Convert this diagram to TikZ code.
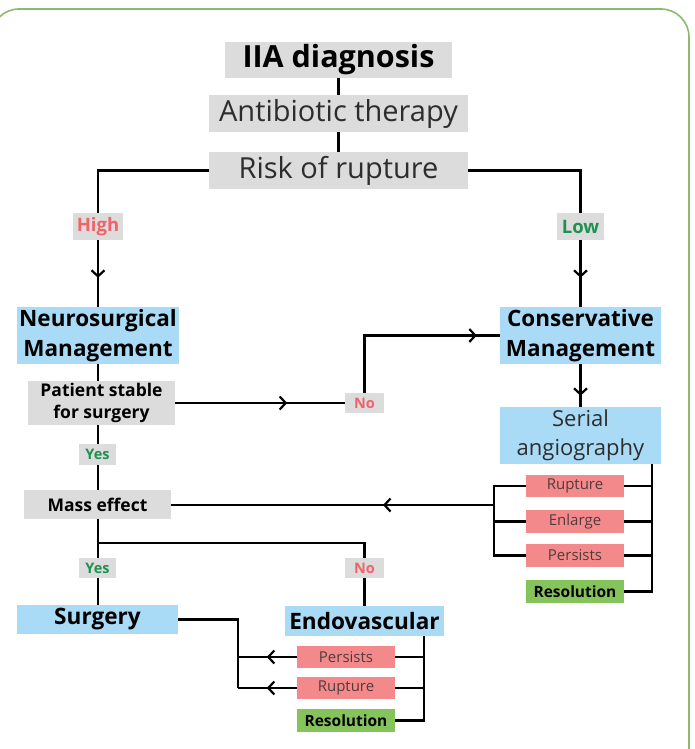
\documentclass[tikz,border=0pt]{standalone}
\usepackage{fontspec}
\setmainfont{Open Sans}
\usetikzlibrary{arrows.meta}
\usetikzlibrary{decorations.markings}
\definecolor{boxgray}{RGB}{220,220,220}
\definecolor{boxblue}{RGB}{170,219,246}
\definecolor{boxred}{RGB}{244,137,140}
\definecolor{boxgreen}{RGB}{133,196,90}
\definecolor{hightext}{RGB}{240,99,106}
\definecolor{lowtext}{RGB}{30,145,80}
\definecolor{textgray}{RGB}{45,45,45}
\definecolor{optiontext}{RGB}{80,60,60}
\definecolor{framegreen}{RGB}{140,186,110}
\tikzset{
  graybox/.style={fill=boxgray, inner sep=0pt, align=center},
  bluebox/.style={fill=boxblue, inner sep=0pt, align=center},
  redbox/.style={fill=boxred, inner sep=0pt, text=optiontext, font={\fontsize{15}{17}\selectfont}},
  greenbox/.style={fill=boxgreen, inner sep=0pt, font={\fontsize{15.5}{17}\selectfont\bfseries}},
  titlefont/.style={font={\fontsize{30.5}{34}\selectfont\bfseries}},
  bigfont/.style={text=textgray, font={\fontsize{29}{34}\selectfont}},
  hilofont/.style={font={\fontsize{18.5}{21}\selectfont\bfseries}},
  mgmtfont/.style={font={\fontsize{22.5}{30}\selectfont\bfseries}},
  midfont/.style={font={\fontsize{17.5}{22}\selectfont\bfseries}},
  tinyfont/.style={font={\fontsize{14.5}{16}\selectfont\bfseries}},
  serialfont/.style={text=textgray, font={\fontsize{22}{29}\selectfont}},
  treatfont/.style={font={\fontsize{22.6}{25}\selectfont\bfseries}},
  conn/.style={line width=2.2pt, black},
  midarrow/.style={postaction={decorate}, decoration={markings,
    mark=at position #1 with {\arrow{Straight Barb[length=6pt,width=13pt]}}}},
}
% name, style, x1, y1, x2, y2, text
\newcommand{\flowbox}[7]{\node[#2, minimum width={(#5-#3)*1pt}, minimum height={(#6-#4)*1pt}] (#1) at ({(#3+#5)/2},{(#4+#6)/2}) {#7};}

\begin{document}
\begin{tikzpicture}[x=1pt, y=-1pt]
\useasboundingbox (0,0) rectangle (694,749);
\clip (0,0) rectangle (694,749);
\draw[framegreen, line width=1.6pt, rounded corners=28pt] (-9,9) rectangle (689,800);
% top column
\flowbox{diag}{graybox,titlefont}{225}{42}{452}{78}{IIA diagnosis}
\flowbox{anti}{graybox,bigfont}{209}{95}{468}{132}{Antibiotic therapy}
\flowbox{risk}{graybox,bigfont}{209}{152}{468}{189}{Risk of rupture}
% risk labels
\flowbox{high}{graybox,hilofont,text=hightext}{73}{213}{123}{240}{High}
\flowbox{low}{graybox,hilofont,text=lowtext}{557}{213}{604}{240}{Low}
% management
\flowbox{neuro}{bluebox,mgmtfont}{17}{307}{179}{364}{Neurosurgical\\Management}
\flowbox{cons}{bluebox,mgmtfont}{500}{307}{661}{364}{Conservative\\Management}
\flowbox{patient}{graybox,midfont}{28}{381}{175}{425}{Patient stable\\for surgery}
\flowbox{noA}{graybox,tinyfont,text=hightext}{345}{393}{384}{413}{No}
\flowbox{yesA}{graybox,tinyfont,text=lowtext}{79}{444}{116}{465}{Yes}
\flowbox{serial}{bluebox,serialfont}{500}{407}{661}{464}{Serial\\angiography}
\flowbox{mass}{graybox,midfont}{24}{490}{171}{519}{Mass effect}
% serial angiography outcomes
\flowbox{ruptA}{redbox}{526}{475}{624}{497}{Rupture}
\flowbox{enlA}{redbox}{526}{510}{624}{533}{Enlarge}
\flowbox{persA}{redbox}{526}{544}{624}{567}{Persists}
\flowbox{resA}{greenbox}{526}{580}{624}{603}{Resolution}
% treatment
\flowbox{yesB}{graybox,tinyfont,text=lowtext}{79}{558}{116}{578}{Yes}
\flowbox{noB}{graybox,tinyfont,text=hightext}{345}{558}{384}{578}{No}
\flowbox{surg}{bluebox,treatfont}{17}{605}{178}{634}{Surgery}
\flowbox{endo}{bluebox,treatfont}{285}{606}{444}{636}{Endovascular}
% endovascular outcomes
\flowbox{persB}{redbox}{297}{646}{395}{668}{Persists}
\flowbox{ruptB}{redbox}{297}{677}{395}{699}{Rupture}
\flowbox{resB}{greenbox}{297}{709}{395}{732}{Resolution}
% connectors top
\draw[conn] (diag.south) -- (diag.south |- anti.north);
\draw[conn] (anti.south) -- (anti.south |- risk.north);
\draw[conn] (risk.west) -| (high.north);
\draw[conn, midarrow=-29pt] (high.south) -- (neuro.north);
\draw[conn] (risk.east) -| (low.north);
\draw[conn, midarrow=-29pt] (low.south) -- (low.south |- cons.north);
% neurosurgical branch
\draw[conn] (neuro.south) -- (neuro.south |- patient.north);
\draw[conn, midarrow=112pt] (patient.east) -- (patient.east -| noA.west);
\draw[conn, midarrow=-23pt] (noA.north) |- (cons.west);
\draw[conn] (neuro.south |- patient.south) -- (neuro.south |- yesA.north);
\draw[conn] (neuro.south |- yesA.south) -- (neuro.south |- mass.north);
\draw[conn, midarrow=-11pt] (low.south |- cons.south) -- (low.south |- serial.north);
% serial brackets
\coordinate (brR) at (652,464);
\draw[conn] (serial.south -| brR) -- (resA.east -| brR) -- (resA.east);
\foreach \o in {ruptA,enlA,persA}
  \draw[conn] (\o.east) -- (\o.east -| brR);
\coordinate (brL) at (494,505);
\draw[conn] (ruptA.west) -| (persA.west -| brL) -- (persA.west);
\draw[conn] (enlA.west) -- (enlA.west -| brL);
\draw[conn, midarrow=111pt] (brL) -- (brL -| mass.east);
% mass effect split
\coordinate (split) at (98,543);
\draw[conn] (split |- mass.south) -- (split |- yesB.north);
\draw[conn] (split |- yesB.south) -- (split |- surg.north);
\draw[conn] (split) -| (noB.north);
\draw[conn] (noB.south) -- (noB.south |- endo.north);
% endovascular brackets
\coordinate (brS) at (238,620);
\draw[conn] (surg.east) -- (surg.east -| brS) -- (ruptB.west -| brS);
\draw[conn, midarrow=30pt] (persB.west) -- (persB.west -| brS);
\draw[conn, midarrow=30pt] (ruptB.west) -- (ruptB.west -| brS);
\coordinate (brE) at (424,636);
\draw[conn] (endo.south -| brE) -- (resB.east -| brE) -- (resB.east);
\foreach \o in {persB,ruptB}
  \draw[conn] (\o.east) -- (\o.east -| brE);
\end{tikzpicture}
\end{document}
